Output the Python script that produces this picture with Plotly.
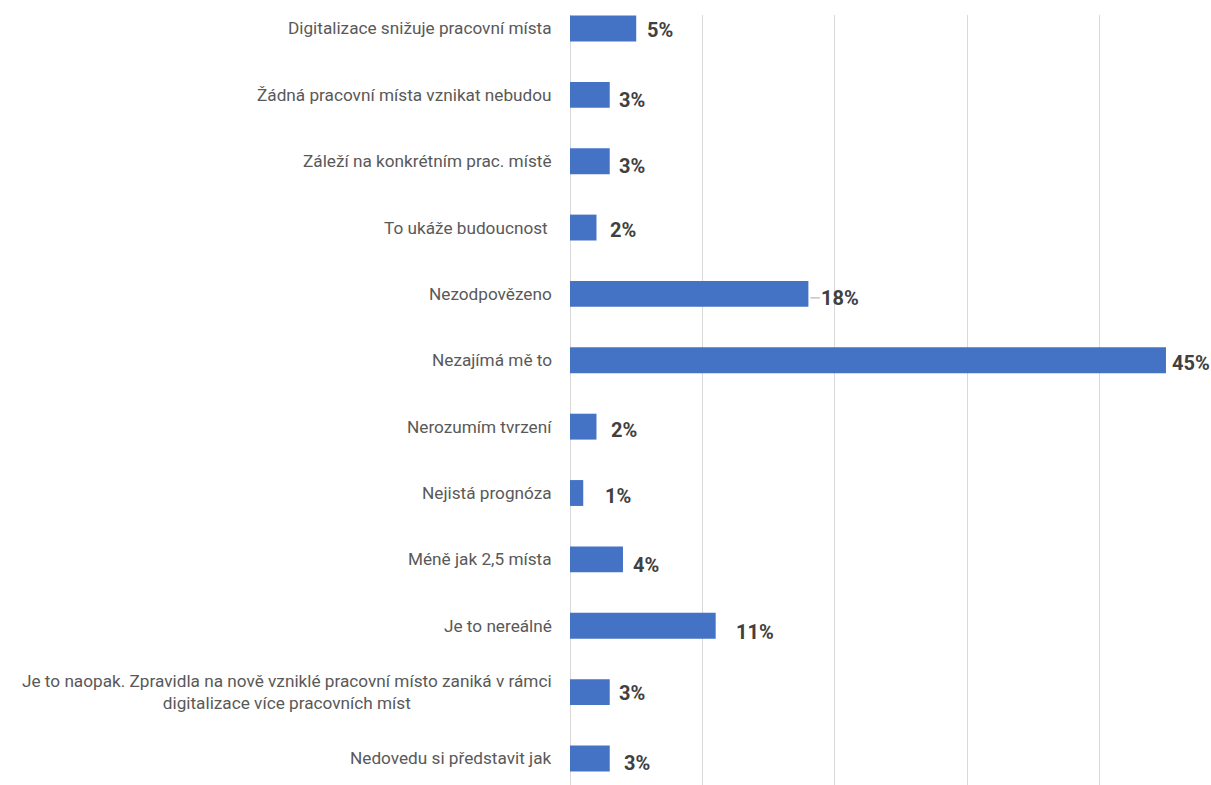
import plotly.graph_objects as go

# Survey answers (top to bottom) and their shares in percent
categories = [
    "Digitalizace snižuje pracovní místa",
    "Žádná pracovní místa vznikat nebudou",
    "Záleží na konkrétním prac. místě",
    "To ukáže budoucnost ",
    "Nezodpovězeno",
    "Nezajímá mě to",
    "Nerozumím tvrzení",
    "Nejistá prognóza",
    "Méně jak 2,5 místa",
    "Je to nereálné",
    "Je to naopak. Zpravidla na nově vzniklé pracovní místo zaniká v rámci<br>digitalizace více pracovních míst",
    "Nedovedu si představit jak",
]
values = [5, 3, 3, 2, 18, 45, 2, 1, 4, 11, 3, 3]

# Hand-placed value label nudges (pixels right, pixels down)
label_dx = [9, 7, 7, 12, 14, 4, 13, 20, 8, 18, 7, 12]
label_dy = [2, 5, 5, 2, 4, 3, 3, 3, 6, 6, 1, 5]
leader_line = [False, False, False, False, True, False, False, False, False, False, False, False]

FONT = "Roboto, Lato, sans-serif"
BAR = "#4472C4"

fig = go.Figure()
fig.add_trace(go.Bar(
    x=values,
    y=categories,
    orientation="h",
    width=0.39,
    marker=dict(color=BAR, line=dict(width=0)),
    hoverinfo="x+y",
))

annotations = []
# Category labels, right-aligned to the axis, centred line by line
for cat in categories:
    annotations.append(dict(
        x=0, y=cat, xref="x", yref="y",
        text=cat, showarrow=False,
        xanchor="right", yanchor="middle", align="center",
        xshift=-16,
        font=dict(family=FONT, size=17.2, color="#595959"),
    ))

# Value labels
for cat, v, dx, dy, lead in zip(categories, values, label_dx, label_dy, leader_line):
    if lead:
        annotations.append(dict(
            x=v, y=cat, xref="x", yref="y",
            text=f"<b>{v}%</b>",
            showarrow=True, arrowhead=0, arrowwidth=1, arrowcolor="#a6a6a6",
            ax=dx + 18, ay=0, standoff=2, yshift=-dy,
            font=dict(family=FONT, size=20, color="#404040"),
        ))
    else:
        annotations.append(dict(
            x=v, y=cat, xref="x", yref="y",
            text=f"<b>{v}%</b>", showarrow=False,
            xanchor="left", yanchor="middle",
            xshift=dx, yshift=-dy,
            font=dict(family=FONT, size=20, color="#404040"),
        ))

fig.update_layout(
    width=1211, height=785,
    margin=dict(l=570, r=0, t=15, b=0),
    paper_bgcolor="white", plot_bgcolor="white",
    showlegend=False,
    annotations=annotations,
    xaxis=dict(
        range=[0, 48.4], dtick=10, tick0=0,
        showgrid=True, gridcolor="#d9d9d9", gridwidth=1,
        zeroline=True, zerolinecolor="#d9d9d9", zerolinewidth=1,
        showticklabels=False, showline=False, ticks="",
    ),
    yaxis=dict(
        type="category",
        categoryorder="array", categoryarray=categories,
        range=[11.40, -0.203],
        showticklabels=False, showgrid=False, zeroline=False,
        showline=False, ticks="",
    ),
)

fig.write_html("out.html")
